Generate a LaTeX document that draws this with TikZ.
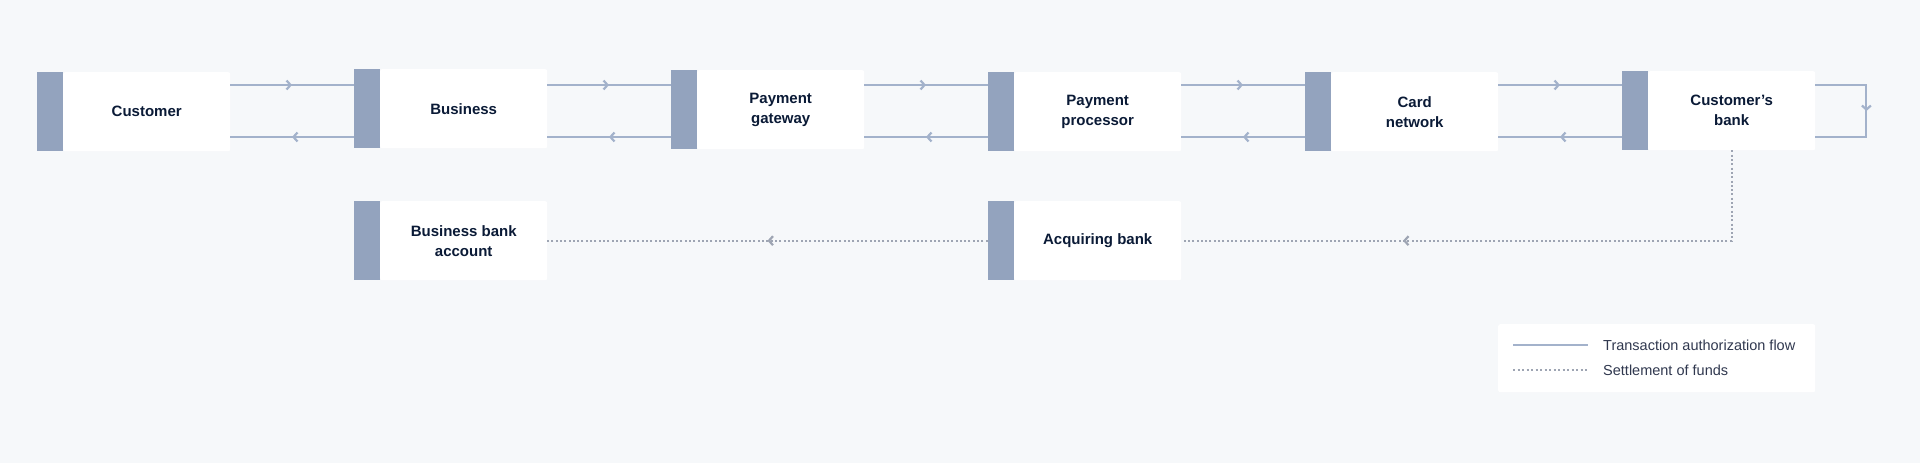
\documentclass[tikz,border=0pt]{standalone}
\usepackage{fontspec}
\setmainfont{Liberation Sans}
\usetikzlibrary{arrows.meta,decorations.markings}
\definecolor{bg}{HTML}{F6F8FA}
\definecolor{barc}{HTML}{93A3BE}
\definecolor{linec}{HTML}{A3B2CB}
\definecolor{dotc}{HTML}{9EA5B3}
\definecolor{navy}{HTML}{0A1A36}
\definecolor{legtext}{HTML}{30384F}
\begin{document}
\begin{tikzpicture}[x=1pt,y=-1pt,
  whitebox/.style={fill=white, rounded corners=2pt, minimum width=167pt, minimum height=79pt,
    anchor=north west, inner sep=0pt, font=\bfseries\fontsize{15}{20}\selectfont, text=navy, align=center},
  barbox/.style={fill=barc, minimum width=26pt, minimum height=79pt, anchor=north east, inner sep=0pt},
  flow/.style={draw=linec, line width=2pt, postaction={decorate},
    decoration={markings, mark=at position #1 with {\arrow[linec, line width=2.2pt]{Straight Barb[length=4pt,width=9pt]}}}},
  flow/.default=0.5,
  settle/.style={draw=dotc, line width=1.8pt, dash pattern=on 2pt off 2.3pt, postaction={decorate},
    decoration={markings, mark=at position #1 with {\arrow[dotc, line width=2.2pt]{Straight Barb[length=4pt,width=9pt]}}}},
  settle/.default=0.5,
  legtxt/.style={anchor=west, inner sep=0pt, text=legtext, font=\fontsize{14.5}{18}\selectfont}
]
\useasboundingbox (0,0) rectangle (1920,463);
\fill[bg] (0,0) rectangle (1920,463);

\coordinate (up) at (0,85);
\coordinate (dn) at (0,137);

% top row
\node[whitebox] (cust) at (63,72) {Customer};
\node[barbox] (custbar) at (cust.north west) {};
\node[whitebox] (bus) at (380,69) {Business};
\node[barbox] (busbar) at (bus.north west) {};
\node[whitebox] (gw) at (697,70) {Payment\\gateway};
\node[barbox] (gwbar) at (gw.north west) {};
\node[whitebox] (proc) at (1014,72) {Payment\\processor};
\node[barbox] (procbar) at (proc.north west) {};
\node[whitebox] (card) at (1331,72) {Card\\network};
\node[barbox] (cardbar) at (card.north west) {};
\node[whitebox] (cb) at (1648,71) {Customer’s\\bank};
\node[barbox] (cbbar) at (cb.north west) {};

% bottom row
\node[whitebox] (bba) at (380,201) {Business bank\\account};
\node[barbox] (bbabar) at (bba.north west) {};
\node[whitebox] (acq) at (1014,201) {Acquiring bank};
\node[barbox] (acqbar) at (acq.north west) {};

% authorization flow
\draw[flow] (cust.east |- up) -- (busbar.west |- up);
\draw[flow] (bus.east |- up) -- (gwbar.west |- up);
\draw[flow] (gw.east |- up) -- (procbar.west |- up);
\draw[flow] (proc.east |- up) -- (cardbar.west |- up);
\draw[flow] (card.east |- up) -- (cbbar.west |- up);

\draw[flow] (busbar.west |- dn) -- (cust.east |- dn);
\draw[flow] (gwbar.west |- dn) -- (bus.east |- dn);
\draw[flow] (procbar.west |- dn) -- (gw.east |- dn);
\draw[flow] (cardbar.west |- dn) -- (proc.east |- dn);
\draw[flow] (cbbar.west |- dn) -- (card.east |- dn);

\coordinate (loopr) at ([xshift=51pt]cb.east);
\draw[flow] (cb.east |- up) -| (loopr |- dn) -- (cb.east |- dn);

% settlement
\draw[settle=419pt] (cb.south) |- (acq.east);
\draw[settle] (acqbar.west) -- (bba.east);

% legend
\node[fill=white, rounded corners=2pt, minimum width=317pt, minimum height=68pt, anchor=north west, inner sep=0pt] (legend) at (1498,324) {};
\coordinate (la1) at (1513,345);
\coordinate (lb1) at (1588,345);
\coordinate (la2) at (1513,370);
\coordinate (lb2) at (1588,370);
\draw[draw=linec, line width=2pt] (la1) -- (lb1);
\draw[draw=dotc, line width=1.5pt, dash pattern=on 2pt off 2.5pt] (la2) -- (lb2);
\node[legtxt] (lt1) at (1603,345) {Transaction authorization flow};
\node[legtxt] (lt2) at (1603,370) {Settlement of funds};
\end{tikzpicture}
\end{document}
